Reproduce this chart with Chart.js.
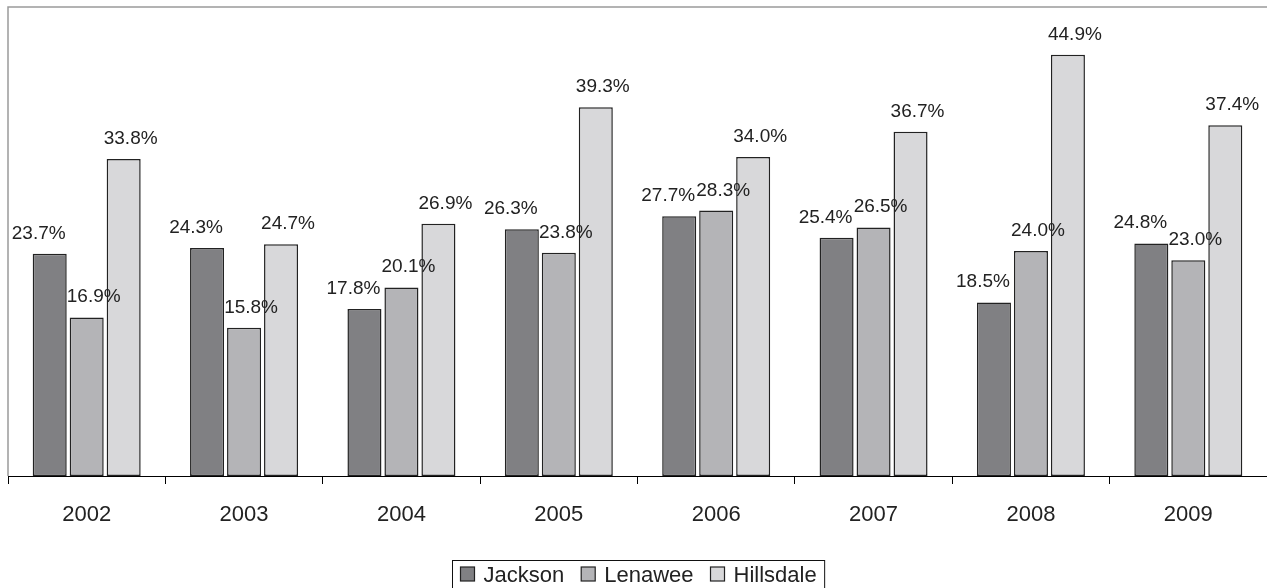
<!DOCTYPE html>
<html>
<head>
<meta charset="utf-8">
<script src="https://cdn.jsdelivr.net/npm/chart.js@4.4.1/dist/chart.umd.min.js"></script>
<style>
  html, body { margin: 0; padding: 0; background: #fff; }
  #wrap { width: 1267px; height: 588px; position: relative; }
</style>
</head>
<body>
<div id="wrap"><canvas id="c" width="1267" height="588"></canvas></div>
<script>
const years = ['2002', '2003', '2004', '2005', '2006', '2007', '2008', '2009'];
const jackson = [23.7, 24.3, 17.8, 26.3, 27.7, 25.4, 18.5, 24.8];
const lenawee = [16.9, 15.8, 20.1, 23.8, 28.3, 26.5, 24.0, 23.0];
const hillsdale = [33.8, 24.7, 26.9, 39.3, 34.0, 36.7, 44.9, 37.4];
const seriesNames = ['Jackson', 'Lenawee', 'Hillsdale'];

const FONT = "'Liberation Sans', Arial, sans-serif";
const colors = ['#808083', '#b4b4b7', '#d8d8da'];
const labelDx = [-11, 7, 7];

const frame = {
  id: 'frame',
  beforeDatasetsDraw(chart) {
    const { ctx, chartArea: a } = chart;
    ctx.save();
    ctx.strokeStyle = '#9a9a9a';
    ctx.lineWidth = 1.5;
    ctx.beginPath();
    ctx.moveTo(a.left, a.bottom);
    ctx.lineTo(a.left, a.top);
    ctx.lineTo(a.right + 5, a.top);
    ctx.stroke();
    ctx.restore();
  }
};

const valueLabels = {
  id: 'valueLabels',
  afterDatasetsDraw(chart) {
    const { ctx } = chart;
    ctx.save();
    ctx.font = '19px ' + FONT;
    ctx.fillStyle = '#222';
    ctx.textAlign = 'center';
    ctx.textBaseline = 'alphabetic';
    chart.data.datasets.forEach((ds, di) => {
      const meta = chart.getDatasetMeta(di);
      meta.data.forEach((el, i) => {
        ctx.fillText(ds.data[i].toFixed(1) + '%', el.x + labelDx[di], el.y - 15);
      });
    });
    ctx.restore();
  }
};

const boxLegend = {
  id: 'boxLegend',
  afterDraw(chart) {
    const { ctx, chartArea: a } = chart;
    ctx.save();
    ctx.font = '22px ' + FONT;
    const sq = 14, gapT = 9, gapI = 17, pad = 8;
    const widths = chart.data.datasets.map(d => ctx.measureText(d.label).width);
    let total = pad * 2;
    widths.forEach((w, i) => { total += sq + gapT + w + (i < widths.length - 1 ? gapI : 0); });
    const cx = (a.left + a.right) / 2 + 1;
    const left = Math.round(cx - total / 2) + 0.5;
    const top = 560.5;
    ctx.strokeStyle = '#111';
    ctx.lineWidth = 1;
    ctx.strokeRect(left, top, total, 32);
    let x = left + pad;
    ctx.textBaseline = 'alphabetic';
    ctx.textAlign = 'left';
    chart.data.datasets.forEach((d, i) => {
      ctx.fillStyle = d.backgroundColor;
      ctx.fillRect(x, 567, sq, sq);
      ctx.strokeStyle = '#222';
      ctx.lineWidth = 1.2;
      ctx.strokeRect(x, 567, sq, sq);
      x += sq + gapT;
      ctx.fillStyle = '#222';
      ctx.fillText(d.label, x, 582);
      x += widths[i] + gapI;
    });
    ctx.restore();
  }
};

new Chart(document.getElementById('c'), {
  type: 'bar',
  data: {
    labels: years,
    datasets: [jackson, lenawee, hillsdale].map((arr, i) => ({
      label: seriesNames[i],
      data: arr,
      backgroundColor: colors[i],
      borderColor: '#222',
      borderWidth: 1.5,
      borderSkipped: false,
      categoryPercentage: 0.705,
      barPercentage: 0.92
    }))
  },
  options: {
    responsive: false,
    animation: false,
    devicePixelRatio: 1,
    layout: { padding: { left: 8, top: 7, right: 0, bottom: 0 } },
    plugins: { legend: { display: false }, tooltip: { enabled: false } },
    scales: {
      x: {
        offset: true,
        grid: { offset: true, drawOnChartArea: false, drawTicks: true, tickLength: 8, color: '#000', lineWidth: 1 },
        border: { display: true, color: '#000', width: 1 },
        ticks: { color: '#222', font: { family: FONT, size: 22 }, padding: 18 },
        afterFit(scale) { scale.height = 112; }
      },
      y: {
        display: false,
        min: 0,
        max: 50
      }
    }
  },
  plugins: [frame, valueLabels, boxLegend]
});
</script>
</body>
</html>
